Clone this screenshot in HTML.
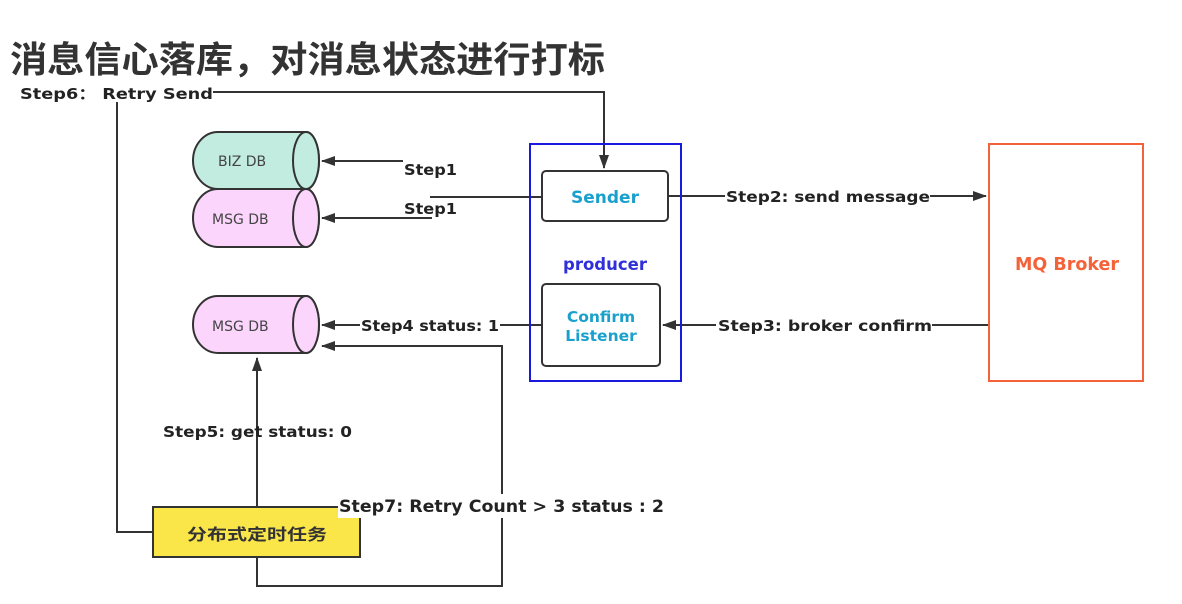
<!DOCTYPE html>
<html><head><meta charset="utf-8"><style>
html,body{margin:0;padding:0;background:#fff;}
svg{display:block;}
text{font-family:"DejaVu Sans","Liberation Sans","Noto Sans CJK SC",sans-serif;font-weight:bold;}
</style></head><body>
<svg width="1182" height="604" viewBox="0 0 1182 604" xmlns="http://www.w3.org/2000/svg">
<defs>
<marker id="b" markerWidth="14" markerHeight="10" refX="13" refY="5" orient="auto" markerUnits="userSpaceOnUse">
<path d="M0,0 L14,5 L0,10 Z" fill="#333"/></marker>
</defs>
<rect width="1182" height="604" fill="#fff"/>
<text x="10" y="72" font-size="36" fill="#333" font-family="Noto Sans CJK SC,sans-serif" textLength="595" lengthAdjust="spacingAndGlyphs">消息信心落库，对消息状态进行打标</text>

<g stroke="#333" stroke-width="2" fill="none">
<polyline points="213,92 604,92 604,168" marker-end="url(#b)"/>
<polyline points="117,102 117,532 153,532"/>
<line x1="403" y1="161" x2="322" y2="161" marker-end="url(#b)"/>
<line x1="432" y1="218" x2="322" y2="218" marker-end="url(#b)"/>
<line x1="430" y1="197" x2="542" y2="197"/>
<line x1="668" y1="196" x2="725" y2="196"/>
<line x1="930" y1="196" x2="986" y2="196" marker-end="url(#b)"/>
<line x1="988" y1="325" x2="932" y2="325"/>
<line x1="716" y1="325" x2="663" y2="325" marker-end="url(#b)"/>
<line x1="542" y1="325" x2="500" y2="325"/>
<line x1="360" y1="325" x2="322" y2="325" marker-end="url(#b)"/>
<line x1="257" y1="507" x2="257" y2="358" marker-end="url(#b)"/>
<polyline points="257,557 257,586 502,586 502,346 322,346" marker-end="url(#b)"/>
</g>

<g stroke="#333" stroke-width="2">
<path d="M218,132 L306,132 A13,28.5 0 0 1 306,189 L218,189 A25,28.5 0 0 1 218,132 Z" fill="#c1ecdf"/>
<ellipse cx="306" cy="160.5" rx="13" ry="28.5" fill="#c1ecdf"/>
<path d="M218,189 L306,189 A13,29 0 0 1 306,247 L218,247 A25,29 0 0 1 218,189 Z" fill="#fcd5fc"/>
<ellipse cx="306" cy="218" rx="13" ry="29" fill="#fcd5fc"/>
<path d="M218,296 L306,296 A13,28.5 0 0 1 306,353 L218,353 A25,28.5 0 0 1 218,296 Z" fill="#fcd5fc"/>
<ellipse cx="306" cy="324.5" rx="13" ry="28.5" fill="#fcd5fc"/>
</g>
<g font-size="14" fill="#444">
<text x="218" y="166" style="font-weight:normal">BIZ DB</text>
<text x="212" y="224" style="font-weight:normal">MSG DB</text>
<text x="212" y="331" style="font-weight:normal">MSG DB</text>
</g>

<rect x="530" y="144" width="151" height="237" fill="none" stroke="#1a1adf" stroke-width="2"/>
<rect x="542" y="171" width="126" height="50" rx="4" fill="#fff" stroke="#333" stroke-width="2"/>
<rect x="542" y="284" width="118" height="82" rx="4" fill="#fff" stroke="#333" stroke-width="2"/>
<text x="605" y="203" font-size="17" fill="#1aa0cc" text-anchor="middle">Sender</text>
<text x="605" y="270" font-size="16.5" fill="#3030d8" text-anchor="middle">producer</text>
<text x="601" y="322" font-size="15.5" fill="#1aa0cc" text-anchor="middle">Confirm</text>
<text x="601" y="341" font-size="15.5" fill="#1aa0cc" text-anchor="middle">Listener</text>

<rect x="989" y="144" width="154" height="237" fill="#fff" stroke="#f4623a" stroke-width="2"/>
<text x="1067" y="270" font-size="17.5" fill="#f4623a" text-anchor="middle">MQ Broker</text>

<rect x="153" y="507" width="207" height="50" fill="#fbe64a" stroke="#333" stroke-width="2"/>
<text x="257" y="540" font-size="16" fill="#333" text-anchor="middle" font-family="Noto Sans CJK SC,sans-serif" textLength="140" lengthAdjust="spacingAndGlyphs">分布式定时任务</text>

<g font-size="15" fill="#222">
<text x="20" y="99" textLength="193" lengthAdjust="spacingAndGlyphs">Step6： Retry Send</text>
<text x="404" y="175" textLength="53" lengthAdjust="spacingAndGlyphs">Step1</text>
<text x="404" y="214" textLength="53" lengthAdjust="spacingAndGlyphs">Step1</text>
<text x="726" y="202" textLength="204" lengthAdjust="spacingAndGlyphs">Step2:  send message</text>
<text x="718" y="331" textLength="214" lengthAdjust="spacingAndGlyphs">Step3:  broker confirm</text>
<text x="361" y="331" textLength="138" lengthAdjust="spacingAndGlyphs">Step4 status: 1</text>
<text x="163" y="437" textLength="189" lengthAdjust="spacingAndGlyphs">Step5: get status:  0</text>
</g>
<rect x="338" y="494" width="328" height="24" fill="#fff"/>
<text x="339" y="512" font-size="17" fill="#222" textLength="325" lengthAdjust="spacingAndGlyphs">Step7: Retry Count &gt; 3 status : 2</text>
</svg>
</body></html>
